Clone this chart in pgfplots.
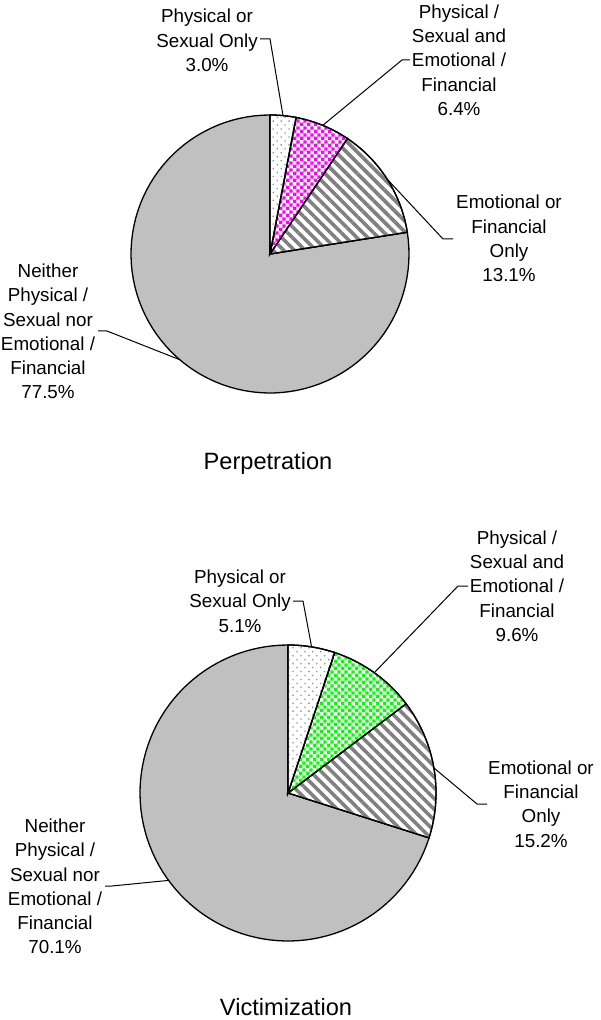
\documentclass[border=0pt]{standalone}
\usepackage{pgfplots}
\pgfplotsset{compat=1.18}
\usepackage{fontspec}
\setmainfont{Liberation Sans}
\usetikzlibrary{patterns,patterns.meta}
\pgfdeclarepatternformonly{finecheck}{\pgfpointorigin}{\pgfqpoint{3.4pt}{3.4pt}}{\pgfqpoint{3.4pt}{3.4pt}}{%
  \pgfpathrectangle{\pgfpointorigin}{\pgfqpoint{1.7pt}{1.7pt}}%
  \pgfpathrectangle{\pgfqpoint{1.7pt}{1.7pt}}{\pgfqpoint{1.7pt}{1.7pt}}%
  \pgfusepath{fill}}
\definecolor{piegray}{HTML}{C0C0C0}
\definecolor{stripegray}{HTML}{808080}
\definecolor{dotgray}{HTML}{8C8C8C}
\definecolor{mag}{HTML}{FF00FF}
\definecolor{grn}{HTML}{00FF00}

% data (percent)
\def\Pa{3.0}\def\Pb{6.4}\def\Pc{13.1}\def\Pd{77.5}
\def\Va{5.1}\def\Vb{9.6}\def\Vc{15.2}\def\Vd{70.1}
\pgfmathsetmacro\PaE{90-3.6*\Pa}
\pgfmathsetmacro\PbE{\PaE-3.6*\Pb}
\pgfmathsetmacro\PcE{\PbE-3.6*\Pc}
\pgfmathsetmacro\PdE{\PcE-3.6*\Pd}
\pgfmathsetmacro\VaE{90-3.6*\Va}
\pgfmathsetmacro\VbE{\VaE-3.6*\Vb}
\pgfmathsetmacro\VcE{\VbE-3.6*\Vc}
\pgfmathsetmacro\VdE{\VcE-3.6*\Vd}

\pgfplotsset{
  wedge/.style={draw=black, line width=0.65pt, samples=90, variable=\t},
  lead/.style={black, line width=0.5pt, mark=none},
  dotsfill/.style={fill=white, postaction={pattern color=dotgray, pattern={Dots[radius=0.45pt, distance=2.8pt, angle=45]}}},
  stripefill/.style={fill=white, postaction={pattern color=stripegray, pattern={Lines[angle=-45, distance=3.8pt, line width=1.8pt]}}},
}
\tikzset{lab/.style={font=\fontsize{9.4}{12.15}\selectfont, align=center, inner sep=0pt},
         ttl/.style={font=\fontsize{11.8}{14}\selectfont, inner sep=0pt, anchor=base}}

\begin{document}
\begin{tikzpicture}
\begin{axis}[
  hide axis, scale only axis, clip=false,
  x=0.5pt, y=0.5pt, y dir=reverse,
  xmin=0, xmax=600, ymin=0, ymax=1020,
]
\path (axis cs:0,0) rectangle (axis cs:600,1020);

% ---------- Perpetration: center (270,254), r=139
\addplot[wedge, fill=piegray, domain=\PdE:\PcE] ({270+139*cos(\t)},{254-139*sin(\t)}) -- (axis cs:270,254) -- cycle;
\addplot[wedge, stripefill, domain=\PcE:\PbE] ({270+139*cos(\t)},{254-139*sin(\t)}) -- (axis cs:270,254) -- cycle;
\addplot[wedge, fill=white, postaction={pattern color=mag, pattern=finecheck}, domain=\PbE:\PaE] ({270+139*cos(\t)},{254-139*sin(\t)}) -- (axis cs:270,254) -- cycle;
\addplot[wedge, dotsfill, domain=\PaE:90] ({270+139*cos(\t)},{254-139*sin(\t)}) -- (axis cs:270,254) -- cycle;

\addplot[lead] coordinates {(260,39) (270,39) (283,115.6)};
\addplot[lead] coordinates {(410,60) (402,60) (322.7,125.4)};
\addplot[lead] coordinates {(387,179) (443,239) (453,239)};
\addplot[lead] coordinates {(98,331) (107,331) (179.7,359.7)};

\node[lab] at (axis cs:207,40.5) {Physical or\\Sexual Only\\3.0\%};
\node[lab] at (axis cs:459,60) {Physical /\\Sexual and\\Emotional /\\Financial\\6.4\%};
\node[lab] at (axis cs:509,238.5) {Emotional or\\Financial\\Only\\13.1\%};
\node[lab] at (axis cs:48,331.5) {Neither\\Physical /\\Sexual nor\\Emotional /\\Financial\\77.5\%};
\node[ttl] at (axis cs:268,469) {Perpetration};

% ---------- Victimization: center (288,793), r=148
\addplot[wedge, fill=piegray, domain=\VdE:\VcE] ({288+148*cos(\t)},{793-148*sin(\t)}) -- (axis cs:288,793) -- cycle;
\addplot[wedge, stripefill, domain=\VcE:\VbE] ({288+148*cos(\t)},{793-148*sin(\t)}) -- (axis cs:288,793) -- cycle;
\addplot[wedge, fill=white, postaction={pattern color=grn, pattern=finecheck}, domain=\VbE:\VaE] ({288+148*cos(\t)},{793-148*sin(\t)}) -- (axis cs:288,793) -- cycle;
\addplot[wedge, dotsfill, domain=\VaE:90] ({288+148*cos(\t)},{793-148*sin(\t)}) -- (axis cs:288,793) -- cycle;

\addplot[lead] coordinates {(293,601) (303,601) (311.6,647)};
\addplot[lead] coordinates {(468,586) (458,586) (374.3,672.7)};
\addplot[lead] coordinates {(434,768) (477,804) (487,804)};
\addplot[lead] coordinates {(105,886) (112,886) (168.5,880.4)};

\node[lab] at (axis cs:240,601) {Physical or\\Sexual Only\\5.1\%};
\node[lab] at (axis cs:517,586) {Physical /\\Sexual and\\Emotional /\\Financial\\9.6\%};
\node[lab] at (axis cs:541,804) {Emotional or\\Financial\\Only\\15.2\%};
\node[lab] at (axis cs:55,886.5) {Neither\\Physical /\\Sexual nor\\Emotional /\\Financial\\70.1\%};
\node[ttl] at (axis cs:286,1015) {Victimization};
\end{axis}
\end{tikzpicture}
\end{document}
